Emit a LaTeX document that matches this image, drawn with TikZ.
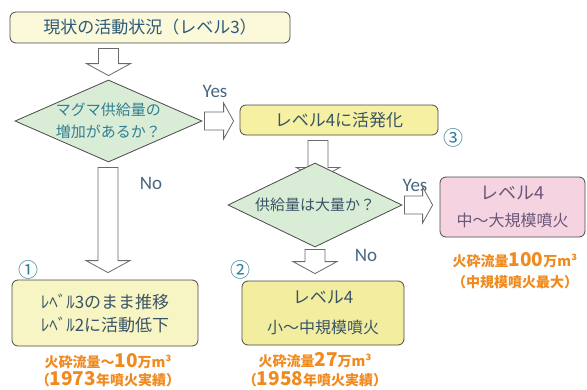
\documentclass[tikz,border=0pt]{standalone}
\usepackage{fontspec}
\usetikzlibrary{shapes.geometric,calc}
\newfontfamily\jp{Noto Sans CJK JP}
\newfontfamily\lat{Carlito}
\definecolor{bordergray}{HTML}{4A4A4A}
\definecolor{arrowgray}{HTML}{6A6A6A}
\definecolor{paleyellow}{HTML}{FBF9DA}
\definecolor{yellowA}{HTML}{F5F0A2}
\definecolor{yellowB}{HTML}{F8F5C4}
\definecolor{yellowC}{HTML}{F3EDA0}
\definecolor{pinkbox}{HTML}{F5D3E0}
\definecolor{diagreen}{HTML}{D9ECD6}
\definecolor{txtblue}{HTML}{2C5A7A}
\definecolor{txtteal}{HTML}{2F7F93}
\definecolor{txtdark}{HTML}{3A5466}
\definecolor{txtpurple}{HTML}{6A5878}
\definecolor{orangetxt}{HTML}{F08A1E}
\definecolor{yesno}{HTML}{4A6680}
\tikzset{
  box/.style={draw=bordergray, line width=0.8pt, rounded corners=6pt, inner sep=0pt, align=center},
  dia/.style={diamond, draw=bordergray, line width=0.8pt, fill=diagreen, inner sep=0pt, align=center},
  harrow/.style={draw=arrowgray, fill=white, line width=0.8pt, line join=miter},
  lbl/.style={font=\lat\fontsize{19}{19}\selectfont, text=yesno, inner sep=0pt},
  circnum/.style={font=\jp\fontsize{20}{20}\selectfont, text=txtteal, inner sep=0pt},
  otxt/.style={font=\jp\bfseries\fontsize{14}{14}\selectfont, text=orangetxt, inner sep=0pt},
}
\newcommand\onum[1]{{\fontsize{19}{19}\selectfont #1}}
\newcommand\hdown[2]{\path[harrow] let \p1=#1, \p2=#2 in
  (\x2-10pt,\y1) -- (\x2+10pt,\y1) -- (\x2+10pt,\y2+12pt) -- (\x2+22pt,\y2+12pt)
  -- (\x2,\y2) -- (\x2-22pt,\y2+12pt) -- (\x2-10pt,\y2+12pt) -- cycle;}
\newcommand\hright[2]{\path[harrow] let \p1=#1, \p2=#2 in
  (\x1,\y1+9pt) -- (\x2-10pt,\y1+9pt) -- (\x2-10pt,\y1+18pt) -- (\x2,\y1)
  -- (\x2-10pt,\y1-18pt) -- (\x2-10pt,\y1-9pt) -- (\x1,\y1-9pt) -- cycle;}
\begin{document}
\begin{tikzpicture}[x=1pt,y=-1pt]
\useasboundingbox[fill=white] (0,0) rectangle (587,389);

\node[box, fill=paleyellow, minimum width=280, minimum height=31,
  font=\jp\fontsize{17}{17}\selectfont, text=txtblue] (top) at (150,27.5) {現状の活動状況（レベル3）};

\node[dia, shape aspect=2.28, minimum width=187, minimum height=82,
  font=\jp\fontsize{15}{22}\selectfont, text=txtteal] (d1) at (108.5,121) {マグマ供給量の\\増加があるか？};

\node[box, fill=yellowA, minimum width=198, minimum height=30,
  font=\jp\fontsize{17}{17}\selectfont, text=txtdark] (lev4) at (339,120) {レベル4に活発化};

\node[circnum] (c3) at (453,138) {③};

\hdown{($(lev4.south)+(0,5)$)}{($(lev4.south)+(-21,44)$)}

\node[dia, shape aspect=2.07, minimum width=174, minimum height=84,
  font=\jp\fontsize{15}{15}\selectfont, text=txtdark] (d2) at (315,205) {供給量は大量か？};

\node[box, fill=pinkbox, minimum width=145, minimum height=60,
  font=\jp\fontsize{16}{27}\selectfont, text=txtpurple] (big) at (512.5,207)
  {{\fontsize{18}{18}\selectfont レベル4}\\中～大規模噴火};

\node[box, fill=yellowB, minimum width=186, minimum height=66,
  font=\jp\fontsize{17}{23}\selectfont, text=txtdark] (b1) at (105,313)
  {ﾚﾍﾞﾙ3のまま推移\\ﾚﾍﾞﾙ2に活動低下};

\node[box, fill=yellowC, minimum width=162, minimum height=64,
  font=\jp\fontsize{16}{30}\selectfont, text=txtdark] (b2) at (323,313)
  {{\fontsize{17}{17}\selectfont レベル4}\\小～中規模噴火};

\node[circnum] (c1) at (28,270) {①};
\node[circnum] (c2) at (240,270) {②};

\node[lbl] (yes1) at (215,91) {Yes};
\node[lbl] (no1) at (151,183) {No};
\node[lbl] (yes2) at (415,185) {Yes};
\node[lbl] (no2) at (366,255) {No};

% hollow arrows
\hdown{($(top.south)+(0,5)$)}{($(d1.north)+(0,-4)$)}
\hdown{($(d1.south)+(0,5)$)}{($(b1.north)+(3,-7)$)}
\hdown{($(d2.south)+(0,2)$)}{($(b2.north)+(-8,-7)$)}
\hright{($(d1.east)+(2,0)$)}{($(lev4.west)+(-6,0)$)}
\hright{($(d2.east)+(2,0)$)}{($(big.west)+(-7,0)$)}

% orange notes
\node[otxt] (n1a) at (108,361) {火砕流量～\onum{10}万m³};
\node[otxt] (n1b) at (108,379) {（\onum{1973}年噴火実績）};
\node[otxt] (n2a) at (315,360) {火砕流量\onum{27}万m³};
\node[otxt] (n2b) at (315,379) {（\onum{1958}年噴火実績）};
\node[otxt] (n3a) at (515,260) {火砕流量\onum{100}万m³};
\node[otxt] (n3b) at (515,282) {（中規模噴火最大）};
\end{tikzpicture}
\end{document}
